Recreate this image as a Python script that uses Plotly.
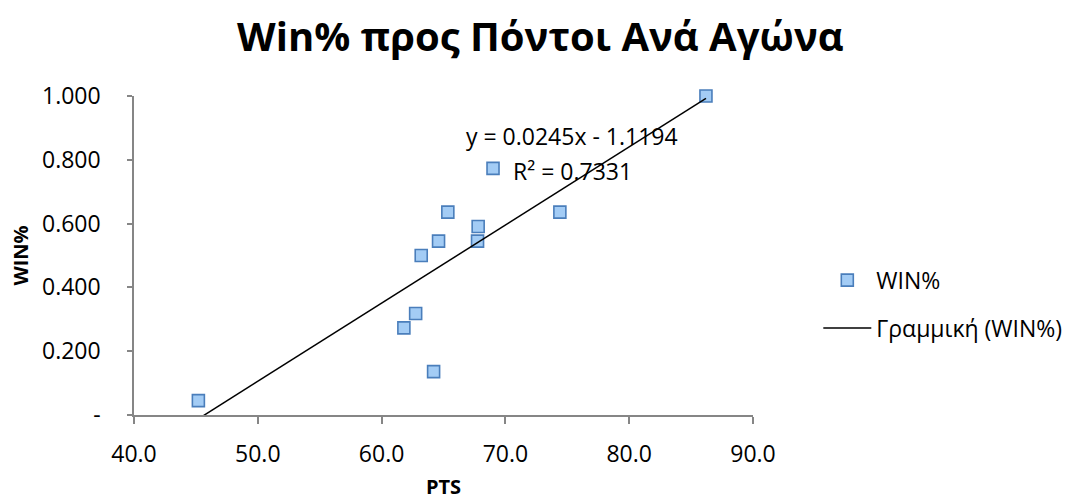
import plotly.graph_objects as go

# ---- data ----
pts = [45.2, 61.8, 62.75, 63.2, 64.2, 64.6, 65.35, 67.75, 67.8, 69.0, 74.4, 86.2]
win = [0.045, 0.273, 0.318, 0.500, 0.136, 0.545, 0.636, 0.545, 0.591, 0.773, 0.636, 1.000]

trend_slope = 0.0245
trend_intercept = -1.1194

x_ticks = [40, 50, 60, 70, 80, 90]
x_tick_labels = ["40.0", "50.0", "60.0", "70.0", "80.0", "90.0"]
y_ticks = [0, 0.2, 0.4, 0.6, 0.8, 1.0]
y_tick_labels = ["-", "0.200", "0.400", "0.600", "0.800", "1.000"]

title_text = "Win% προς Πόντοι Ανά Αγώνα"
series_name = "WIN%"
trend_name = "Γραμμική (WIN%)"
eq_text = "y = 0.0245x - 1.1194"
r2_text = "R² = 0.7331"

FONT = "Open Sans"
AXIS_GRAY = "#868686"

trend_x = [min(pts), max(pts)]
trend_y = [trend_slope * v + trend_intercept for v in trend_x]

fig = go.Figure()
fig.add_trace(go.Scatter(
    x=pts, y=win, mode="markers", name=series_name, legendgroup="a",
    marker=dict(symbol="square", size=12, color="#A3CCF5",
                line=dict(color="#4A7EBB", width=1.6)),
    cliponaxis=False,
))
fig.add_trace(go.Scatter(
    x=trend_x, y=trend_y, mode="lines", name=trend_name, legendgroup="b",
    line=dict(color="black", width=1.5),
))

fig.update_layout(
    width=1070, height=500,
    margin=dict(l=134, r=1070 - 753, t=96, b=500 - 415, autoexpand=False),
    paper_bgcolor="white", plot_bgcolor="white",
    font=dict(family=FONT, size=23, color="black"),
    title=dict(text="<b>" + title_text + "</b>", x=0.505, xanchor="center",
               y=1 - 37 / 500, yanchor="middle", yref="container",
               font=dict(family=FONT, size=40, color="black")),
    showlegend=True,
    legend=dict(x=1.1055, xanchor="left", y=0.49, yanchor="top",
                font=dict(family=FONT, size=23), tracegroupgap=15,
                itemwidth=48, bgcolor="rgba(0,0,0,0)"),
    xaxis=dict(range=[40, 90], tickvals=x_ticks, ticktext=x_tick_labels,
               automargin=False,
               showgrid=False, zeroline=False, showline=True, linecolor=AXIS_GRAY,
               linewidth=1.5, ticks="outside", ticklen=7, tickcolor=AXIS_GRAY,
               tickwidth=1.5, tickfont=dict(size=23), ticklabelstandoff=11,
               title=dict(text="<b>PTS</b>", font=dict(size=20), standoff=20)),
    yaxis=dict(range=[0, 1], tickvals=y_ticks, ticktext=y_tick_labels,
               automargin=False,
               showgrid=False, zeroline=False, showline=True, linecolor=AXIS_GRAY,
               linewidth=1.5, ticks="outside", ticklen=5, tickcolor=AXIS_GRAY,
               tickwidth=1.5, tickfont=dict(size=23), ticklabelstandoff=22,
               title=dict(text="<b>WIN%</b>", font=dict(size=20), standoff=8)),
    annotations=[
        dict(text=eq_text, x=75.38, y=0.874, xref="x", yref="y", showarrow=False,
             xanchor="center", yanchor="middle", font=dict(size=23)),
        dict(text=r2_text, x=75.45, y=0.766, xref="x", yref="y", showarrow=False,
             xanchor="center", yanchor="middle", font=dict(size=23)),
    ],
)

fig.write_html("out.html")
